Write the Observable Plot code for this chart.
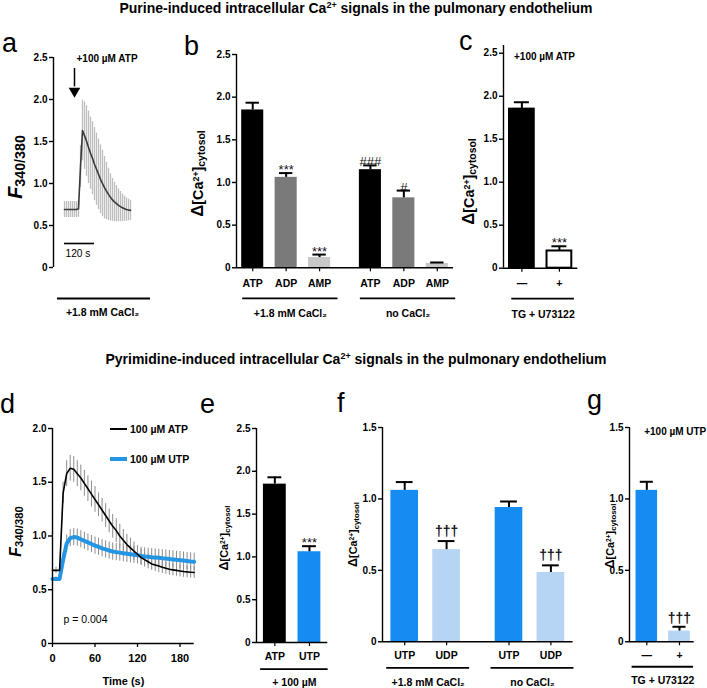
<!DOCTYPE html>
<html>
<head>
<meta charset="utf-8">
<script src="https://cdn.jsdelivr.net/npm/d3@7"></script>
<script src="https://cdn.jsdelivr.net/npm/@observablehq/plot@0.6"></script>
<style>
  html, body { margin: 0; padding: 0; background: #fff; }
  #fig { position: relative; width: 707px; height: 688px; overflow: hidden; background: #fff;
         font-family: "Liberation Sans", Arial, Helvetica, sans-serif; }
  #fig g[aria-label$="tick label"] text { font-weight: 700; fill: #000; }
</style>
</head>
<body>
<div id="fig"></div>
<script>
// ================= DATA =================
const titleLead = ["Purine-induced", "Pyrimidine-induced"];
const titleMid = " intracellular Ca";
const titleSup = "2+";
const titleEnd = " signals in the pulmonary endothelium";
const panelLetters = ["a", "b", "c", "d", "e", "f", "g"];

const yTicks25 = [0, 0.5, 1, 1.5, 2, 2.5];
const yTicks20 = [0, 0.5, 1, 1.5, 2];
const yTicks15 = [0, 0.5, 1, 1.5];
const dTimeTicks = [0, 60, 120, 180];

// panel a: mean trace F340/380 (s) with SD, +100 µM ATP in 1.8 mM CaCl2
const aTime = [0,8,16,24,32,40,48,56,64,72,80,88,96,104,112,120,128,136,144,152,160,168,176,184,192,200,208,216,224,232,240,248,256,264];
const aMean = [0.69,0.69,0.69,0.69,0.69,0.69,0.69,0.70,1.20,1.63,1.57,1.505,1.43,1.36,1.30,1.23,1.17,1.11,1.05,1.00,0.95,0.91,0.87,0.835,0.805,0.78,0.76,0.74,0.725,0.71,0.70,0.69,0.685,0.68];
const aSD   = [0.095,0.095,0.095,0.095,0.095,0.095,0.095,0.10,0.25,0.36,0.40,0.42,0.43,0.43,0.435,0.435,0.43,0.42,0.41,0.395,0.37,0.34,0.31,0.28,0.255,0.235,0.215,0.195,0.18,0.165,0.15,0.14,0.13,0.12];
const aAgonist = "+100 µM ATP";
const aAddedAt = 40;        // s
const aScaleBar = 120;      // s
const aCondition = "+1.8 mM CaCl₂";

// panel b
const bAgonist   = ["ATP", "ADP", "AMP", "ATP", "ADP", "AMP"];
const bCondition = ["+1.8 mM CaCl₂", "+1.8 mM CaCl₂", "+1.8 mM CaCl₂", "no CaCl₂", "no CaCl₂", "no CaCl₂"];
const bMean = [1.85, 1.06, 0.12, 1.15, 0.82, 0.05];
const bSEM  = [0.085, 0.05, 0.035, 0.05, 0.085, 0.012];
const bSig  = ["", "***", "***", "###", "#", ""];

// panel c
const cTreatment = ["—", "+"];
const cCondition = ["TG + U73122", "TG + U73122"];
const cMean = [1.85, 0.20];
const cSEM  = [0.08, 0.055];
const cSig  = ["", "***"];
const cNote = "+100 µM ATP";

// panel d: mean traces with SD (time in s)
const dTime = [0,5,10,15,20,25,30,35,40,45,50,55,60,65,70,75,80,85,90,95,100,105,110,115,120,125,130,135,140,145,150,155,160,165,170,175,180,185,190,195,200];
const atpMean = [0.68,0.68,0.68,1.40,1.58,1.63,1.62,1.58,1.54,1.49,1.44,1.39,1.34,1.29,1.24,1.19,1.14,1.09,1.05,1.00,0.96,0.92,0.89,0.86,0.83,0.80,0.78,0.76,0.74,0.73,0.72,0.71,0.70,0.69,0.685,0.68,0.675,0.67,0.666,0.663,0.66];
const atpSD   = [0.03,0.03,0.03,0.10,0.12,0.12,0.12,0.12,0.12,0.12,0.12,0.12,0.12,0.11,0.11,0.11,0.11,0.11,0.11,0.11,0.10,0.095,0.09,0.085,0.08,0.075,0.07,0.065,0.06,0.06,0.06,0.058,0.056,0.055,0.055,0.055,0.055,0.055,0.055,0.055,0.055];
const utpMean = [0.60,0.60,0.60,0.78,0.93,0.98,0.99,0.985,0.97,0.955,0.94,0.925,0.91,0.90,0.885,0.875,0.865,0.855,0.85,0.845,0.84,0.835,0.83,0.825,0.82,0.815,0.81,0.806,0.802,0.80,0.797,0.793,0.79,0.786,0.782,0.778,0.775,0.771,0.767,0.763,0.76];
const utpSD   = [0.02,0.02,0.02,0.06,0.08,0.08,0.08,0.08,0.08,0.08,0.08,0.08,0.08,0.08,0.08,0.08,0.08,0.08,0.08,0.08,0.08,0.08,0.08,0.08,0.08,0.08,0.08,0.08,0.08,0.08,0.08,0.08,0.08,0.08,0.08,0.08,0.08,0.08,0.08,0.08,0.08];
const dLegend = ["100 µM ATP", "100 µM UTP"];
const dStat = "p = 0.004";
const dXLabel = "Time (s)";

// panel e
const eAgonist   = ["ATP", "UTP"];
const eCondition = ["+ 100 µM", "+ 100 µM"];
const eMean = [1.85, 1.06];
const eSEM  = [0.08, 0.065];
const eSig  = ["", "***"];

// panel f
const fAgonist   = ["UTP", "UDP", "UTP", "UDP"];
const fCondition = ["+1.8 mM CaCl₂", "+1.8 mM CaCl₂", "no CaCl₂", "no CaCl₂"];
const fMean = [1.06, 0.645, 0.94, 0.485];
const fSEM  = [0.058, 0.06, 0.042, 0.05];
const fSig  = ["", "†††", "", "†††"];

// panel g
const gTreatment = ["—", "+"];
const gCondition = ["TG + U73122", "TG + U73122"];
const gMean = [1.06, 0.075];
const gSEM  = [0.06, 0.03];
const gSig  = ["", "†††"];
const gNote = "+100 µM UTP";

// ================= STYLE =================
const FONT = '"Liberation Sans", Arial, Helvetica, sans-serif';
const BLUE = "#158cf2", LIGHT_BLUE = "#b6d4f4", BLUE_LINE = "#2495e3";
const agonistFill = {ATP: "#000000", ADP: "#7a7a7a", AMP: "#c8c8c8", UTP: BLUE, UDP: LIGHT_BLUE};
const cFill = {"—": "#000000", "+": "#ffffff"};
const gFill = {"—": BLUE, "+": LIGHT_BLUE};

const fig = document.getElementById("fig");
const M = {l: 48, r: 20, t: 16, b: 64};
const fmtY = d => d === 0 ? "0" : d3.format(".1f")(d);

function plotAt(box, spec) {
  const {x0, x1, yZero, yTop} = box;
  const p = Plot.plot({
    width: M.l + (x1 - x0) + M.r,
    height: M.t + (yZero - yTop) + M.b,
    marginLeft: M.l, marginRight: M.r, marginTop: M.t, marginBottom: M.b,
    style: {background: "transparent", fontFamily: FONT, fontSize: "10px", fontWeight: "bold", overflow: "visible", color: "#000", maxWidth: "none"},
    ...spec
  });
  p.style.position = "absolute";
  p.style.left = (x0 - M.l) + "px";
  p.style.top = (yTop - M.t) + "px";
  fig.appendChild(p);
  return p;
}

function yAxisMarks(xMin, yMax, ticks, fs = 10) {
  return [
    Plot.ruleX([xMin], {y1: 0, y2: yMax, stroke: "#000", strokeWidth: 1.4}),
    Plot.axisY({ticks, tickFormat: fmtY, tickSize: 4, tickPadding: 2, label: null, fontSize: fs, fontWeight: "bold", fill: "#000", strokeWidth: 1.4})
  ];
}

function barPanel(o) {
  const n = o.values.length;
  const condOrder = [...new Set(o.conditions)];
  const perGroup = n / condOrder.length;
  const rows = o.values.map((v, i) => {
    const g = condOrder.indexOf(o.conditions[i]);
    const k = o.conditions.slice(0, i).filter(c => c === o.conditions[i]).length;
    return {slot: g * (perGroup + o.gap) + k, label: o.labels[i], cond: o.conditions[i],
            mean: v, sem: o.sems[i], sig: o.sigs[i], fill: o.fillOf(i), stroke: o.strokeOf ? o.strokeOf(i) : "none"};
  });
  const slots = rows.map(d => d.slot);
  const xDomain = [slots[0] - o.padL, slots[n - 1] + o.padR];
  const groups = condOrder.map(c => {
    const s = rows.filter(d => d.cond === c).map(d => d.slot);
    return {name: c, a: d3.min(s) - o.lineL, b: d3.max(s) + o.lineR};
  });
  const labelOf = new Map(rows.map(d => [d.slot, d.label]));
  const HALF = 0.33, CAP = 0.2;
  return plotAt(o.box, {
    x: {domain: xDomain},
    y: {domain: [0, o.yMax]},
    color: {type: "identity"},
    marks: [
      Plot.rect(rows, {x1: d => d.slot - HALF, x2: d => d.slot + HALF, y1: 0, y2: "mean", fill: "fill", stroke: "stroke", strokeWidth: 2}),
      Plot.ruleX(rows, {x: "slot", y1: "mean", y2: d => d.mean + d.sem, stroke: "#000", strokeWidth: 2}),
      Plot.ruleY(rows, {y: d => d.mean + d.sem, x1: d => d.slot - CAP, x2: d => d.slot + CAP, stroke: "#000", strokeWidth: 2}),
      Plot.text(rows.filter(d => d.sig), {x: "slot", y: d => d.mean + d.sem, text: "sig", lineAnchor: "bottom", dy: o.sigDy, fontSize: o.sigSize, fontWeight: o.sigWeight || "normal", fill: "#111"}),
      ...yAxisMarks(xDomain[0], o.yMax, o.yTicks),
      Plot.ruleY([0], {stroke: "#000", strokeWidth: 1.4}),
      Plot.axisX({ticks: slots, tickFormat: s => labelOf.get(s), tickSize: 4, tickPadding: o.labelPad, label: null, fontSize: 10.5, fontWeight: "bold", fill: "#000", strokeWidth: 1.2}),
      Plot.ruleY(groups, {y: 0, x1: "a", x2: "b", dy: o.lineDy, stroke: "#000", strokeWidth: 1.8}),
      Plot.text(groups, {x: g => (g.a + g.b) / 2, y: 0, dy: o.textDy, text: "name", fontSize: 10.5, lineAnchor: "middle"}),
      ...(o.extra || [])
    ]
  });
}

// ---------- panel a ----------
const aRows = aTime.map((t, i) => ({t, m: aMean[i], sd: aSD[i]}));
plotAt({x0: 53, x1: 151, yZero: 267.3, yTop: 57.3}, {
  x: {domain: [-44, 348], axis: null},
  y: {domain: [0, 2.5]},
  marks: [
    Plot.ruleX(aRows, {x: "t", y1: d => d.m - d.sd, y2: d => d.m + d.sd, stroke: "#bdbdbd", strokeWidth: 1.3}),
    Plot.line(aRows, {x: "t", y: "m", stroke: "#3a3a3a", strokeWidth: 1.6}),
    ...yAxisMarks(-44, 2.5, yTicks25),
    Plot.ruleX([aAddedAt], {y1: 2.37, y2: 2.15, stroke: "#000", strokeWidth: 1.5}),
    Plot.dot([aAddedAt], {x: d => d, y: 2.1, symbol: "triangle", r: 4.3, fill: "#000", stroke: "none", rotate: 180}),
    Plot.text([aAgonist], {frameAnchor: "top-left", dx: 23, dy: 1, text: d => d, textAnchor: "start", lineAnchor: "middle", fontSize: 10}),
    Plot.ruleY([aScaleBar], {x1: 0, x2: d => d, y: 0, dy: -24, stroke: "#000", strokeWidth: 1.6}),
    Plot.text([aScaleBar], {x: 0, y: 0, dx: 1, dy: -14, text: d => `${d} s`, textAnchor: "start", lineAnchor: "middle", fontSize: 10.2, fontWeight: "normal"}),
    Plot.ruleY([aCondition], {y: 0, dy: 31, insetLeft: 4, insetRight: 1, stroke: "#000", strokeWidth: 1.8}),
    Plot.text([aCondition], {frameAnchor: "bottom", dy: 45, text: d => d, textAnchor: "middle", lineAnchor: "middle", fontSize: 10.5})
  ]
});

// ---------- panel b ----------
barPanel({
  box: {x0: 236, x1: 453, yZero: 267.3, yTop: 54}, yMax: 2.5, yTicks: yTicks25,
  labels: bAgonist, conditions: bCondition, values: bMean, sems: bSEM, sigs: bSig,
  fillOf: i => agonistFill[bAgonist[i]],
  gap: 0.52, padL: 0.485, padR: 0.485, lineL: 0.3, lineR: 0.55,
  labelPad: 7.5, lineDy: 30.5, textDy: 46, sigDy: 1, sigSize: 13
});

// ---------- panel c ----------
barPanel({
  box: {x0: 502.7, x1: 577, yZero: 267.3, yTop: 44.6}, yMax: 2.59, yTicks: yTicks25,
  labels: cTreatment, conditions: cCondition, values: cMean, sems: cSEM, sigs: cSig,
  fillOf: i => cFill[cTreatment[i]], strokeOf: () => "#000",
  gap: 0, padL: 0.49, padR: 0.49, lineL: 0.27, lineR: 0.4,
  labelPad: 7.5, lineDy: 30.5, textDy: 46, sigDy: 1, sigSize: 13,
  extra: [Plot.text([cNote], {frameAnchor: "top-left", dx: 10.5, dy: 11.4, text: d => d, textAnchor: "start", lineAnchor: "middle", fontSize: 10})]
});

// ---------- panel d ----------
const atpRows = dTime.map((t, i) => ({t, m: atpMean[i], sd: atpSD[i]}));
const utpRows = dTime.map((t, i) => ({t, m: utpMean[i], sd: utpSD[i]}));
plotAt({x0: 52.3, x1: 194, yZero: 643.3, yTop: 428.3}, {
  x: {domain: [0, 200]},
  y: {domain: [0, 2]},
  marks: [
    Plot.ruleX(utpRows, {x: "t", y1: d => d.m - d.sd, y2: d => d.m + d.sd, stroke: "#8c8c8c", strokeWidth: 1}),
    Plot.ruleX(atpRows, {x: "t", y1: d => d.m - d.sd, y2: d => d.m + d.sd, stroke: "#8c8c8c", strokeWidth: 1}),
    Plot.line(utpRows, {x: "t", y: "m", stroke: BLUE_LINE, strokeWidth: 4}),
    Plot.line(atpRows, {x: "t", y: "m", stroke: "#000", strokeWidth: 1.6}),
    ...yAxisMarks(0, 2, yTicks20, 10),
    Plot.ruleY([0], {stroke: "#000", strokeWidth: 1.4}),
    Plot.axisX({ticks: dTimeTicks, tickSize: 4, tickPadding: 7, label: null, fontSize: 11, fontWeight: "bold", fill: "#000", strokeWidth: 1.3}),
    Plot.text([dXLabel], {frameAnchor: "bottom", dy: 38.4, text: d => d, textAnchor: "middle", lineAnchor: "middle", fontSize: 11}),
    Plot.text([dStat], {frameAnchor: "bottom-left", dx: 11, dy: -24.3, text: d => d, textAnchor: "start", lineAnchor: "middle", fontSize: 10.5, fontWeight: "normal"})
  ]
});

// ---------- panel e ----------
barPanel({
  box: {x0: 255.7, x1: 327, yZero: 641.7, yTop: 427.7}, yMax: 2.5, yTicks: yTicks25,
  labels: eAgonist, conditions: eCondition, values: eMean, sems: eSEM, sigs: eSig,
  fillOf: i => agonistFill[eAgonist[i]],
  gap: 0, padL: 0.53, padR: 0.53, lineL: 0.41, lineR: 0.54,
  labelPad: 5.7, lineDy: 26.6, textDy: 40.6, sigDy: 1, sigSize: 13
});

// ---------- panel f ----------
barPanel({
  box: {x0: 381.7, x1: 572.3, yZero: 641, yTop: 426.7}, yMax: 1.5, yTicks: yTicks15,
  labels: fAgonist, conditions: fCondition, values: fMean, sems: fSEM, sigs: fSig,
  fillOf: i => agonistFill[fAgonist[i]],
  gap: 0.49, padL: 0.53, padR: 0.53, lineL: 0.43, lineR: 0.55,
  labelPad: 6, lineDy: 26, textDy: 41, sigDy: -5, sigSize: 14, sigWeight: "bold"
});

// ---------- panel g ----------
barPanel({
  box: {x0: 629.3, x1: 694, yZero: 641, yTop: 426.7}, yMax: 1.5, yTicks: yTicks15,
  labels: gTreatment, conditions: gCondition, values: gMean, sems: gSEM, sigs: gSig,
  fillOf: i => gFill[gTreatment[i]],
  gap: 0, padL: 0.53, padR: 0.45, lineL: 0.45, lineR: 0.43,
  labelPad: 5.5, lineDy: 25, textDy: 39, sigDy: -4, sigSize: 14, sigWeight: "bold",
  extra: [Plot.text([gNote], {frameAnchor: "top-left", dx: 14.7, dy: 4, text: d => d, textAnchor: "start", lineAnchor: "middle", fontSize: 10})]
});

// ================= OVERLAY TEXT =================
const ov = d3.select(fig).append("svg")
  .attr("width", 707).attr("height", 688)
  .style("position", "absolute").style("left", "0px").style("top", "0px")
  .style("font-family", FONT);

[[titleLead[0], 13], [titleLead[1], 364]].forEach(([lead, y]) => {
  const t = ov.append("text").attr("x", 356).attr("y", y).attr("text-anchor", "middle")
    .attr("font-size", 14).attr("font-weight", "bold");
  t.append("tspan").text(lead + titleMid);
  t.append("tspan").attr("font-size", 9).attr("dy", -5).text(titleSup);
  t.append("tspan").attr("dy", 5).text(titleEnd);
});

const letterPos = [[2, 52], [184, 55], [459, 50], [0, 413], [200, 413], [337, 412], [587, 409]];
panelLetters.forEach((L, i) => {
  ov.append("text").attr("x", letterPos[i][0]).attr("y", letterPos[i][1])
    .attr("font-size", 27).text(L);
});

function deltaLabel(x, y, s) {
  const t = ov.append("text").attr("transform", `translate(${x},${y}) rotate(-90)`)
    .attr("text-anchor", "middle").attr("font-weight", "bold");
  t.append("tspan").attr("font-size", 21 * s).text("Δ");
  t.append("tspan").attr("font-size", 18 * s).text("[Ca");
  t.append("tspan").attr("font-size", 11 * s).attr("dy", -5 * s).text("2+");
  t.append("tspan").attr("font-size", 18 * s).attr("dy", 5 * s).text("]");
  t.append("tspan").attr("font-size", 13 * s).attr("dy", 3 * s).text("cytosol");
}
function fLabel(x, y, s) {
  const t = ov.append("text").attr("transform", `translate(${x},${y}) rotate(-90)`)
    .attr("text-anchor", "middle").attr("font-weight", "bold");
  t.append("tspan").attr("font-size", 21 * s).attr("font-style", "italic").text("F");
  t.append("tspan").attr("font-size", 15 * s).attr("dy", 3 * s).text("340/380");
}
fLabel(22, 167, 0.95);
deltaLabel(203, 173.5, 0.8);
deltaLabel(474, 181.5, 0.8);
fLabel(21, 531.5, 0.75);
deltaLabel(228, 538, 0.6);
deltaLabel(357, 534.5, 0.6);
deltaLabel(614, 536, 0.6);

// legend of panel d
[[429, "#000", 2, dLegend[0]], [459, BLUE_LINE, 4, dLegend[1]]].forEach(([y, c, w, label]) => {
  ov.append("line").attr("x1", 110).attr("x2", 127).attr("y1", y).attr("y2", y)
    .attr("stroke", c).attr("stroke-width", w);
  ov.append("text").attr("x", 130).attr("y", y + 3.7).attr("font-size", 10.5)
    .attr("font-weight", "bold").text(label);
});
</script>
</body>
</html>
